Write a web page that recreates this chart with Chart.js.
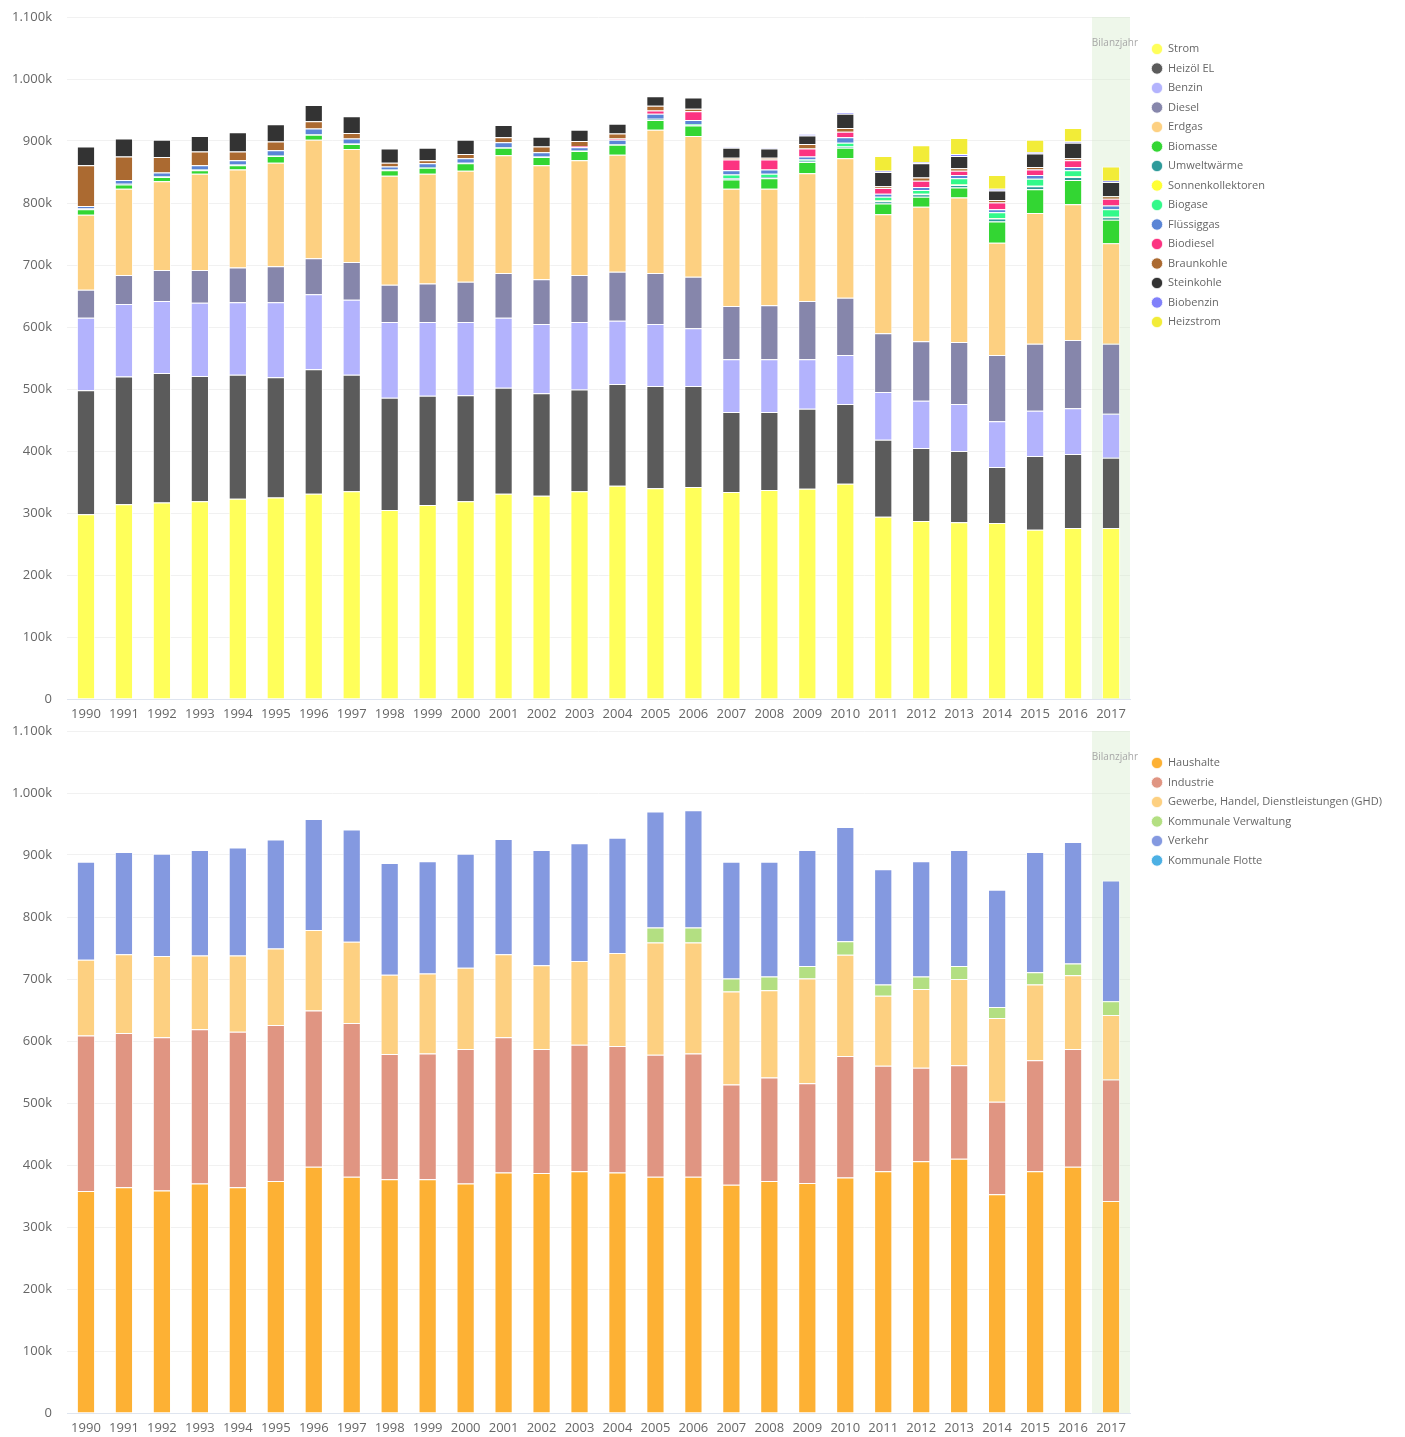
<!DOCTYPE html>
<html>
<head>
<meta charset="utf-8">
<script src="https://cdn.jsdelivr.net/npm/chart.js@4.4.1/dist/chart.umd.min.js"></script>
<style>
  body { margin: 0; background: #fff; }
  canvas { position: absolute; left: 0; }
  #energietraeger { top: 0; }
  #sektoren { top: 722px; }
</style>
</head>
<body>
<canvas id="energietraeger" width="1405" height="722"></canvas>
<canvas id="sektoren" width="1405" height="714"></canvas>
<script>
// Jahre
var years = ['1990','1991','1992','1993','1994','1995','1996','1997','1998','1999','2000','2001','2002','2003',
             '2004','2005','2006','2007','2008','2009','2010','2011','2012','2013','2014','2015','2016','2017'];

// Endenergie nach Energieträgern (in 1000)
var strom      = [298,314,317,319,323,325,331,335,305,313,319,331,328,335,344,340,342,334,337,339,347,294,287,285,284,273,276,276];
var heizoel    = [200,206,209,202,200,194,201,188,181,176,171,171,165,164,164,165,163,129,126,129,129,124,118,115,90,119,119,113];
var benzin     = [117,117,116,118,117,121,121,121,122,119,118,113,112,109,102,100,93,85,85,80,79,77,76,76,74,73,74,71];
var diesel     = [45,47,50,53,56,58,58,61,60,62,65,72,72,76,79,82,83,86,87,94,92,95,96,100,107,108,110,113];
var erdgas     = [121,139,143,155,158,167,191,182,176,177,179,190,184,185,189,231,227,189,188,206,225,192,217,233,181,211,219,162];
var biomasse   = [9,7,7,6,7,11,8,8,9,10,12,12,13,15,16,16,17,15,17,18,17,17,16,16,34,38,39,38];
var umwelt     = [1,1,1,1,1,1,1,1,1,1,1,1,1,1,1,1,1,2,2,2,2,4,4,4,5,5,5,4];
var sonnen     = [0,0,0,0,0,0,0,0,0,0,0,0,0,0,0,0,0,0,0,0,0,1,1,1,1,1,1,1];
var biogase    = [0,0,0,0,0,0,0,0,0,0,0,0,0,0,0,1,1,6,5,2,6,6,6,10,9,11,10,12];
var fluessig   = [4,6,6,7,7,8,9,8,5,6,7,8,7,5,7,8,7,7,7,5,9,5,5,5,5,6,5,6];
var biodiesel  = [0,0,0,0,0,0,0,0,0,0,0,0,0,2,2,5,14,17,16,13,9,9,10,7,11,9,11,11];
var braunkohle = [66,38,25,22,14,14,12,9,6,5,7,8,9,8,8,8,4,3,3,7,6,3,5,4,4,4,3,4];
var steinkohle = [30,29,28,25,31,28,26,27,23,20,23,20,16,18,16,15,18,16,15,14,23,23,23,20,15,22,25,23];
var biobenzin  = [0,0,0,0,0,0,0,0,0,0,0,0,0,0,0,0,0,1,1,2,2,2,2,3,3,2,2,2];
var heizstrom  = [0,0,0,0,0,0,0,0,0,0,0,0,0,0,0,0,0,0,0,0,0,24,27,26,22,20,22,23];

// Endenergie nach Sektoren (in 1000)
var haushalte  = [358,364,359,370,364,374,397,381,377,377,370,388,387,390,388,381,381,368,374,371,380,390,406,410,353,390,397,342];
var industrie  = [251,249,247,249,251,252,252,248,202,203,217,218,200,204,204,197,199,162,167,161,196,170,151,151,149,179,190,196];
var ghd        = [122,127,131,119,123,123,130,131,128,129,131,134,135,135,150,181,179,150,141,169,163,113,127,139,135,122,119,104];
var verwaltung = [0,0,0,0,0,0,0,0,0,0,0,0,0,0,0,24,24,21,22,20,22,18,20,21,18,20,19,22];
var verkehr    = [158,165,165,170,174,176,179,181,180,181,184,186,186,190,186,187,189,188,185,187,184,186,186,187,189,194,196,195];
var flotte     = [0,0,0,0,0,0,0,0,0,0,0,0,0,0,0,0,0,0,0,0,0,0,0,0,0,0,0,0];

var bilanzjahr = '2017';

Chart.defaults.font.family = '"Open Sans", sans-serif';
Chart.defaults.color = '#666';

// grüner Hintergrund für das Bilanzjahr + Beschriftung
var bilanzPlugin = {
    id: 'bilanz',
    beforeDatasetsDraw: function (chart) {
        var ctx = chart.ctx, area = chart.chartArea, x = chart.scales.x;
        var w = x.width / years.length;
        var cx = x.getPixelForValue(years.indexOf(bilanzjahr));
        ctx.save();
        ctx.fillStyle = 'rgba(205,232,195,0.35)';
        ctx.fillRect(cx - w / 2, area.top, w, area.bottom - area.top);
        ctx.restore();
    },
    afterDraw: function (chart) {
        var ctx = chart.ctx, area = chart.chartArea;
        ctx.save();
        ctx.font = '10px "Open Sans", sans-serif';
        ctx.fillStyle = '#a8a8a8';
        ctx.textAlign = 'right';
        ctx.textBaseline = 'middle';
        ctx.fillText('Bilanzjahr', area.right + 8, area.top + 26);
        ctx.restore();
    }
};

// Legende etwas nach rechts unten schieben
var legendNudge = {
    id: 'legendNudge',
    afterLayout: function (chart) {
        chart.legend.left += 13;
        chart.legend.right += 13;
        chart.legend.top += 18;
    }
};

function ds(label, data, color) {
    return {
        label: label,
        data: data,
        backgroundColor: color,
        borderColor: 'rgba(255,255,255,0.75)',
        borderWidth: 1
    };
}

function makeChart(id, datasets, areaTop, areaBottom) {
    var chart = new Chart(document.getElementById(id).getContext('2d'), {
        type: 'bar',
        data: { labels: years, datasets: datasets },
        options: {
            responsive: false,
            animation: false,
            categoryPercentage: 1,
            barPercentage: 0.48,
            layout: { padding: { top: areaTop, right: 0, bottom: 0, left: 0 } },
            plugins: {
                tooltip: { enabled: false },
                legend: {
                    position: 'right',
                    align: 'start',
                    labels: {
                        usePointStyle: true,
                        pointStyle: 'circle',
                        boxHeight: 8,
                        padding: 8.5,
                        color: '#666',
                        font: { size: 11 }
                    }
                }
            },
            scales: {
                x: {
                    stacked: true,
                    grid: { display: false, drawTicks: false },
                    border: { color: '#dfe5ef' },
                    ticks: { padding: 7, maxRotation: 0, autoSkip: false, color: '#666', font: { size: 13 } }
                },
                y: {
                    stacked: true,
                    min: 0,
                    max: 1100,
                    grid: { color: '#f1f1f1', drawTicks: true, tickLength: 15, tickColor: 'rgba(0,0,0,0)' },
                    border: { display: false },
                    afterFit: function (s) { s.width = 67; },
                    ticks: {
                        stepSize: 100,
                        padding: 0,
                        color: '#666',
                        font: { size: 13 },
                        callback: function (v) { return v === 0 ? '0' : v.toLocaleString('de-DE') + 'k'; }
                    }
                }
            }
        },
        plugins: [bilanzPlugin, legendNudge]
    });
    // Plotfläche auf die Position im Original bringen
    var area = chart.chartArea, pad = chart.options.layout.padding;
    pad.right = area.right - 1130;
    pad.top += areaTop - area.top;
    pad.bottom += area.bottom - areaBottom;
    chart.update('none');
    return chart;
}

makeChart('energietraeger', [
    ds('Strom', strom, '#ffff5a'),
    ds('Heizöl EL', heizoel, '#5b5b5b'),
    ds('Benzin', benzin, '#b3b3fd'),
    ds('Diesel', diesel, '#8686ab'),
    ds('Erdgas', erdgas, '#fdd081'),
    ds('Biomasse', biomasse, '#33d633'),
    ds('Umweltwärme', umwelt, '#2e9a9a'),
    ds('Sonnenkollektoren', sonnen, '#ffff33'),
    ds('Biogase', biogase, '#33f98a'),
    ds('Flüssiggas', fluessig, '#5a85d6'),
    ds('Biodiesel', biodiesel, '#fc3381'),
    ds('Braunkohle', braunkohle, '#ab6a31'),
    ds('Steinkohle', steinkohle, '#333333'),
    ds('Biobenzin', biobenzin, '#8080fa'),
    ds('Heizstrom', heizstrom, '#f2ec38')
], 17, 699);

makeChart('sektoren', [
    ds('Haushalte', haushalte, '#fdb134'),
    ds('Industrie', industrie, '#e09582'),
    ds('Gewerbe, Handel, Dienstleistungen (GHD)', ghd, '#fdd081'),
    ds('Kommunale Verwaltung', verwaltung, '#b3df82'),
    ds('Verkehr', verkehr, '#8499e0'),
    ds('Kommunale Flotte', flotte, '#4cb0e4')
], 9, 691);
</script>
</body>
</html>
